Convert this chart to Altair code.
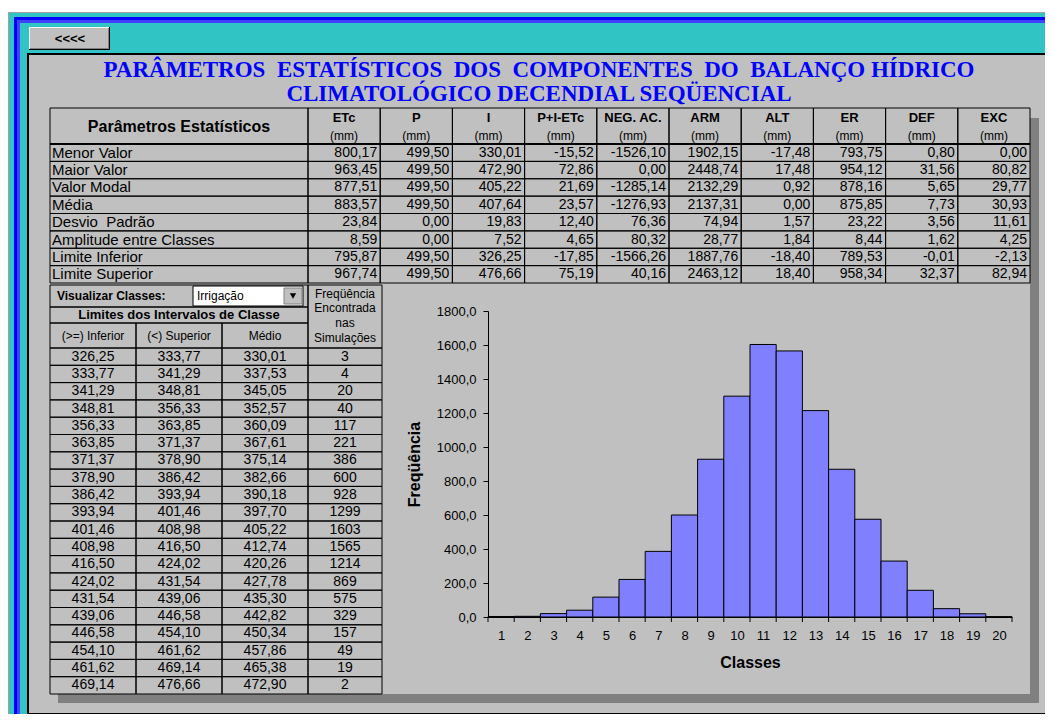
import altair as alt
import pandas as pd

# ---------------- data ----------------
title_line1 = "PARÂMETROS\u00a0\u00a0ESTATÍSTICOS\u00a0\u00a0DOS\u00a0\u00a0COMPONENTES\u00a0\u00a0DO\u00a0\u00a0BALANÇO HÍDRICO"
title_line2 = "CLIMATOLÓGICO DECENDIAL SEQÜENCIAL"

stat_rows = ["Menor Valor", "Maior Valor", "Valor Modal", "Média", "Desvio\u00a0\u00a0Padrão",
             "Amplitude entre Classes", "Limite Inferior", "Limite Superior"]
stat_cols = ["ETc", "P", "I", "P+I-ETc", "NEG. AC.", "ARM", "ALT", "ER", "DEF", "EXC"]

etc_vals = [800.17, 963.45, 877.51, 883.57, 23.84, 8.59, 795.87, 967.74]
p_vals = [499.50, 499.50, 499.50, 499.50, 0.00, 0.00, 499.50, 499.50]
i_vals = [330.01, 472.90, 405.22, 407.64, 19.83, 7.52, 326.25, 476.66]
pie_vals = [-15.52, 72.86, 21.69, 23.57, 12.40, 4.65, -17.85, 75.19]
neg_vals = [-1526.10, 0.00, -1285.14, -1276.93, 76.36, 80.32, -1566.26, 40.16]
arm_vals = [1902.15, 2448.74, 2132.29, 2137.31, 74.94, 28.77, 1887.76, 2463.12]
alt_vals = [-17.48, 17.48, 0.92, 0.00, 1.57, 1.84, -18.40, 18.40]
er_vals = [793.75, 954.12, 878.16, 875.85, 23.22, 8.44, 789.53, 958.34]
def_vals = [0.80, 31.56, 5.65, 7.73, 3.56, 1.62, -0.01, 32.37]
exc_vals = [0.00, 80.82, 29.77, 30.93, 11.61, 4.25, -2.13, 82.94]
stat_values = [etc_vals, p_vals, i_vals, pie_vals, neg_vals, arm_vals, alt_vals, er_vals, def_vals, exc_vals]

classes = list(range(1, 21))
lim_inf = [326.25, 333.77, 341.29, 348.81, 356.33, 363.85, 371.37, 378.90, 386.42, 393.94,
           401.46, 408.98, 416.50, 424.02, 431.54, 439.06, 446.58, 454.10, 461.62, 469.14]
lim_sup = [333.77, 341.29, 348.81, 356.33, 363.85, 371.37, 378.90, 386.42, 393.94, 401.46,
           408.98, 416.50, 424.02, 431.54, 439.06, 446.58, 454.10, 461.62, 469.14, 476.66]
lim_med = [330.01, 337.53, 345.05, 352.57, 360.09, 367.61, 375.14, 382.66, 390.18, 397.70,
           405.22, 412.74, 420.26, 427.78, 435.30, 442.82, 450.34, 457.86, 465.38, 472.90]
frequencia = [3, 4, 20, 40, 117, 221, 386, 600, 928, 1299, 1603, 1565, 1214, 869, 575, 329, 157, 49, 19, 2]
class_cols = ["(>=) Inferior", "(<) Superior", "Médio"]
freq_header = ["Freqüência", "Encontrada", "nas", "Simulações"]
y_ticks = [0, 200, 400, 600, 800, 1000, 1200, 1400, 1600, 1800]

# ---------------- style ----------------
FONT = "Liberation Sans"
SERIF = "Liberation Serif"
GRAY = "#C0C0C0"
DARK = "#808080"
CYAN = "#30C4C4"
BLUE = "#0000FF"
BARC = "#8080FF"


def fmt(v):
    return f"{v:.2f}".replace(".", ",")


one = pd.DataFrame({"k": [0]})


def box(x, x2, y, y2, fill, stroke=None, sw=1, opacity=1):
    kw = dict(fill=fill, fillOpacity=opacity)
    if stroke:
        kw.update(stroke=stroke, strokeWidth=sw)
    return alt.Chart(one).mark_rect(**kw).encode(
        x=alt.value(x), x2=alt.value(x2), y=alt.value(y), y2=alt.value(y2))


def label(txt, x, y, size, bold=False, color="black", font=FONT, align="center"):
    return alt.Chart(one).mark_text(
        text=txt, fontSize=size, fontWeight="bold" if bold else "normal",
        color=color, font=font, align=align, baseline="middle").encode(
        x=alt.value(x), y=alt.value(y))


# ---------------- row A: frame, button, title ----------------
rowA = alt.layer(
    box(0, 1037, 0, 4, "white"),
    box(0, 1037, 4, 5, "#A0A0A0"),
    box(0, 1, 4, 706, "#A0A0A0"),
    box(1, 1037, 5, 706, CYAN),
    box(6, 1037, 9, 706, BLUE),
    box(9, 1037, 12, 706, "#4040FF"),
    box(12, 1037, 15, 706, CYAN),
    box(19, 1037, 45, 706, "black"),
    box(21, 1037, 47, 705, GRAY),
    box(1022, 1031, 110, 695, DARK),
    box(50, 1031, 686, 695, DARK),
    box(21, 102, 19, 42, "black"),
    box(21, 101, 19, 41, "white"),
    box(22, 101, 20, 41, DARK),
    box(22, 100, 20, 40, GRAY),
    label("<<<<", 62, 31, 13, bold=True),
    label(title_line1, 531, 62, 23, bold=True, color=BLUE, font=SERIF),
    label(title_line2, 531, 86, 23, bold=True, color=BLUE, font=SERIF),
).properties(width=1037, height=100)

# ---------------- row B: statistics table ----------------
stat_df = pd.DataFrame([
    {"row": r, "col": c, "txt": fmt(stat_values[j][i])}
    for j, c in enumerate(stat_cols) for i, r in enumerate(stat_rows)
])
rowlab_df = pd.DataFrame({"row": stat_rows})
hdr_df = pd.DataFrame({"col": stat_cols, "mm": ["(mm)"] * len(stat_cols)})

xs_stat = alt.Scale(domain=stat_cols, range=[300, 1022], paddingInner=0, paddingOuter=0)
ys_stat = alt.Scale(domain=stat_rows, range=[36, 175], paddingInner=0, paddingOuter=0)
Xc = alt.X("col:N", scale=xs_stat, axis=None)
Yr = alt.Y("row:N", scale=ys_stat, axis=None)

rowB = alt.layer(
    box(42, 300, 0, 36, GRAY, stroke="black", sw=1, opacity=0),
    alt.Chart(hdr_df).mark_rect(fillOpacity=0, stroke="black", strokeWidth=1).encode(
        x=Xc, y=alt.value(0), y2=alt.value(36)),
    alt.Chart(hdr_df).mark_text(font=FONT, fontSize=13, fontWeight="bold", color="black").encode(
        x=Xc, y=alt.value(10), text="col:N"),
    alt.Chart(hdr_df).mark_text(font=FONT, fontSize=12, color="black").encode(
        x=Xc, y=alt.value(28), text="mm:N"),
    label("Parâmetros Estatísticos", 171, 19, 16, bold=True),
    alt.Chart(rowlab_df).mark_rect(fillOpacity=0, stroke="black", strokeWidth=1).encode(
        x=alt.value(42), x2=alt.value(300), y=Yr),
    alt.Chart(stat_df).mark_rect(fillOpacity=0, stroke="black", strokeWidth=1).encode(
        x=Xc, y=Yr),
    alt.Chart(rowlab_df).mark_text(font=FONT, fontSize=15, align="left", color="black").encode(
        x=alt.value(44), y=Yr, text="row:N"),
    alt.Chart(stat_df).mark_text(font=FONT, fontSize=14, align="right", dx=-3, color="black").encode(
        x=alt.X("col:N", scale=xs_stat, axis=None, bandPosition=1), y=Yr, text="txt:N"),
    alt.Chart(one).mark_rule(color="black", strokeWidth=2).encode(
        x=alt.value(42), x2=alt.value(1022), y=alt.value(36)),
).properties(width=1037, height=177)

# ---------------- row C left: class table ----------------
cls_df = pd.DataFrame([
    {"cls": c, "col": name, "txt": fmt(vals[i])}
    for name, vals in zip(class_cols, [lim_inf, lim_sup, lim_med])
    for i, c in enumerate(classes)
])
freq_df = pd.DataFrame({"cls": classes, "freq": frequencia})
sub_df = pd.DataFrame({"col": class_cols})

xs_cls = alt.Scale(domain=class_cols, range=[42, 300], paddingInner=0, paddingOuter=0)
ys_cls = alt.Scale(domain=classes, range=[63, 409], paddingInner=0, paddingOuter=0)
X3 = alt.X("col:N", scale=xs_cls, axis=None)
Yc = alt.Y("cls:O", scale=ys_cls, axis=None)

freq_hdr_layers = [label(t, 337, yy, 12) for t, yy in zip(freq_header, [9, 23, 38, 53])]

left = alt.layer(
    box(42, 300, 0, 22, GRAY, stroke="black", sw=1, opacity=0),
    label("Visualizar Classes:", 49, 11, 12, bold=True, align="left"),
    box(185, 295, 1, 21, "white", stroke="black", sw=1),
    box(276, 294, 3, 19, GRAY, stroke=DARK, sw=1),
    alt.Chart(one).mark_point(shape="triangle-down", filled=True, color="black", size=40, opacity=1).encode(
        x=alt.value(285), y=alt.value(11)),
    label("Irrigação", 189, 11, 12, align="left"),
    box(42, 300, 22, 38, GRAY, stroke="black", sw=1, opacity=0),
    label("Limites dos Intervalos de Classe", 171, 30, 13, bold=True),
    box(300, 374, 0, 63, GRAY, stroke="black", sw=1, opacity=0),
    *freq_hdr_layers,
    alt.Chart(sub_df).mark_rect(fillOpacity=0, stroke="black", strokeWidth=1).encode(
        x=X3, y=alt.value(38), y2=alt.value(63)),
    alt.Chart(sub_df).mark_text(font=FONT, fontSize=12, color="black").encode(
        x=X3, y=alt.value(51), text="col:N"),
    alt.Chart(cls_df).mark_rect(fillOpacity=0, stroke="black", strokeWidth=1).encode(x=X3, y=Yc),
    alt.Chart(freq_df).mark_rect(fillOpacity=0, stroke="black", strokeWidth=1).encode(
        x=alt.value(300), x2=alt.value(374), y=Yc),
    alt.Chart(cls_df).mark_text(font=FONT, fontSize=14, color="black").encode(x=X3, y=Yc, text="txt:N"),
    alt.Chart(freq_df).mark_text(font=FONT, fontSize=14, color="black").encode(
        x=alt.value(337), y=Yc, text="freq:Q"),
).properties(width=480, height=421)

# ---------------- row C right: histogram ----------------
edge_df = pd.DataFrame({"e": [c - 0.5 for c in classes] + [classes[-1] + 0.5]})
xs_h = alt.Scale(domain=[0.5, 20.5], nice=False, zero=False)
ys_h = alt.Scale(domain=[0, 1800], nice=False, range=[332, 26])

x_axis = alt.Axis(values=classes, ticks=False, tickSize=0, labelPadding=12, domainColor="black",
                  labelFontSize=13, labelColor="black", labelFont=FONT, grid=False, format="d",
                  titleFont=FONT, titleFontSize=16, titleFontWeight="bold", titleColor="black",
                  titlePadding=12, labelFlush=False, labelOverlap=False, labelBound=False)
y_axis = alt.Axis(values=y_ticks, format=".1f", labelExpr="replace(datum.label, '.', ',')",
                  tickSize=5, tickColor="black", domainColor="black", labelPadding=7,
                  labelFontSize=13, labelColor="black", labelFont=FONT, grid=False,
                  titleFont=FONT, titleFontSize=16, titleFontWeight="bold", titleColor="black",
                  titlePadding=14, labelOverlap=False)

bars = alt.Chart(freq_df).transform_calculate(
    lo="datum.cls - 0.5", hi="datum.cls + 0.5", base="0"
).mark_rect(fill=BARC, stroke="black", strokeWidth=1).encode(
    x=alt.X("lo:Q", scale=xs_h, axis=x_axis, title="Classes"),
    x2="hi:Q",
    y=alt.Y("freq:Q", scale=ys_h, axis=y_axis, title="Freqüência"),
    y2="base:Q",
)
xticks = alt.Chart(edge_df).mark_rule(color="black", strokeWidth=1).encode(
    x=alt.X("e:Q", scale=xs_h, axis=x_axis, title="Classes"), y=alt.value(332), y2=alt.value(337))

hist = alt.layer(bars, xticks).properties(width=524, height=332)

rowC = alt.hconcat(left, hist, spacing=0, bounds="flush")

chart = alt.vconcat(rowA, rowB, rowC, spacing=0, bounds="flush").properties(
    padding=0, background=CYAN
).configure_view(stroke=None)

chart.save("out.html", embed_options={"renderer": "svg", "actions": False})
